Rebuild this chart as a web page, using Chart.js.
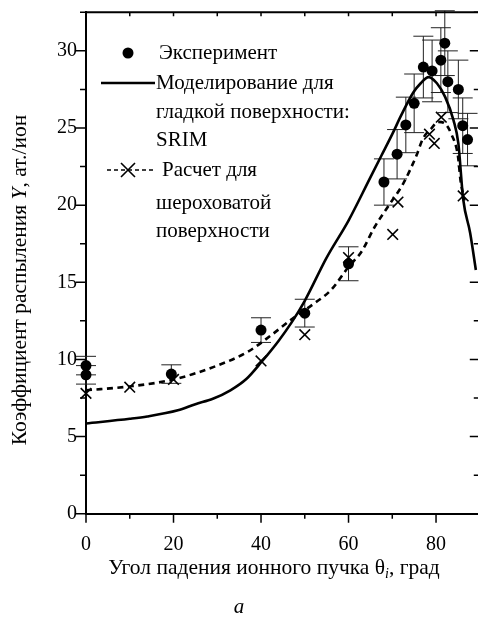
<!DOCTYPE html>
<html>
<head>
<meta charset="utf-8">
<script src="https://cdn.jsdelivr.net/npm/chart.js@4.4.1/dist/chart.umd.min.js"></script>
<style>
html,body{margin:0;padding:0;background:#fff;}
#wrap{width:478px;height:617px;position:relative;}
</style>
</head>
<body>
<div id="wrap"><canvas id="c" width="478" height="617"></canvas></div>
<script>
// ---- data ----
const expAngle = [0, 0, 19.5, 40, 50, 60, 68.1, 71.1, 73.1, 75.0, 77.1, 79.1, 81.1, 82.0, 82.7, 85.1, 86.1, 87.2];
const expY     = [9.6, 9.0, 9.05, 11.9, 13.0, 16.2, 21.5, 23.3, 25.2, 26.6, 28.95, 28.7, 29.4, 30.5, 28.0, 27.5, 25.15, 24.25];
const expErr   = [0.6, 0.6, 0.6, 0.8, 0.9, 1.1, 1.5, 1.6, 1.8, 1.9, 2.0, 2.0, 2.1, 2.1, 2.0, 1.9, 1.8, 1.7];

const calcAngle = [0, 10, 20, 40, 50, 60, 70.1, 71.3, 78.5, 79.6, 81.2, 86.2];
const calcY     = [7.8, 8.2, 8.7, 9.9, 11.6, 16.6, 18.1, 20.2, 24.6, 24.0, 25.7, 20.6];

const srimAngle = [0, 10, 14, 21, 25, 29, 33, 36.7, 40, 44, 47, 50, 55, 60, 65, 67.5, 70, 72, 74.8, 76.5, 78.3, 80.2, 82.1, 84, 85.1, 86.2, 87.8, 89.1];
const srimY     = [5.85, 6.15, 6.3, 6.7, 7.1, 7.45, 8.0, 8.75, 9.8, 11.2, 12.4, 13.8, 16.6, 19.0, 21.8, 23.2, 24.6, 25.8, 27.3, 27.9, 28.3, 27.9, 27.0, 25.5, 24.0, 20.4, 18.2, 15.8];

const roughAngle = [0, 10, 20, 30, 37, 42, 47, 52, 56, 60, 63, 66, 69, 72.5, 75.5, 77, 79, 80.5, 82, 83.5, 85, 85.6, 86.5];
const roughY     = [8.0, 8.25, 8.7, 9.6, 10.5, 11.5, 12.6, 13.6, 14.5, 16.0, 17.0, 18.6, 19.9, 21.4, 23.2, 24.3, 25.0, 25.4, 25.3, 24.6, 23.2, 21.6, 20.3];

const xTickLabels = [0, 20, 40, 60, 80];
const yTickLabels = [0, 5, 10, 15, 20, 25, 30];

const legendTexts = ['Эксперимент', 'Моделирование для', 'гладкой поверхности:', 'SRIM', 'Расчет для', 'шероховатой', 'поверхности'];
const xTitleMain = 'Угол падения ионного пучка θ';
const xTitleSub = 'i';
const xTitleEnd = ', град';
const yTitleStart = 'Коэффициент распыления ';
const yTitleVar = 'Y';
const yTitleEnd = ', ат./ион';
const caption = 'a';

const FONT = '"Liberation Serif", "Times New Roman", serif';
const pts = (xs, ys) => xs.map((x, i) => ({x: x, y: ys[i]}));

const decor = {
  id: 'decor',
  beforeDatasetsDraw(chart) {
    const ctx = chart.ctx, xs = chart.scales.x, ys = chart.scales.y;
    ctx.save();
    ctx.strokeStyle = '#222';
    ctx.lineWidth = 1;
    expAngle.forEach((a, i) => {
      const px = xs.getPixelForValue(a);
      const yt = ys.getPixelForValue(expY[i] + expErr[i]);
      const yb = ys.getPixelForValue(expY[i] - expErr[i]);
      ctx.beginPath();
      ctx.moveTo(px, yt); ctx.lineTo(px, yb);
      ctx.moveTo(px - 10, yt); ctx.lineTo(px + 10, yt);
      ctx.moveTo(px - 10, yb); ctx.lineTo(px + 10, yb);
      ctx.stroke();
    });
    ctx.restore();
  },
  afterDraw(chart) {
    const ctx = chart.ctx, xs = chart.scales.x, ys = chart.scales.y, ca = chart.chartArea;
    ctx.save();
    ctx.strokeStyle = '#000';
    ctx.lineWidth = 2;
    // top frame line
    ctx.beginPath();
    ctx.moveTo(ca.left - 1, ca.top); ctx.lineTo(chart.width, ca.top);
    ctx.stroke();
    ctx.lineWidth = 1.5;
    const xRight = xs.getPixelForValue(90);
    // y ticks left (outward) and right (inward)
    ys.ticks.forEach(t => {
      const py = ys.getPixelForValue(t.value);
      const major = Math.abs(t.value % 5) < 1e-6;
      const L = major ? 10 : 6;
      ctx.beginPath();
      ctx.moveTo(ca.left - L, py); ctx.lineTo(ca.left, py);
      ctx.moveTo(xRight - L, py); ctx.lineTo(xRight, py);
      ctx.stroke();
    });
    // x ticks bottom (outward) and top (inward)
    xs.ticks.forEach(t => {
      const px = xs.getPixelForValue(t.value);
      const major = Math.abs(t.value % 20) < 1e-6;
      const L = major ? 9 : 5;
      ctx.beginPath();
      ctx.moveTo(px, ca.bottom); ctx.lineTo(px, ca.bottom + L);
      ctx.moveTo(px, ca.top); ctx.lineTo(px, ca.top + 4);
      ctx.stroke();
    });

    // legend
    ctx.fillStyle = '#000';
    ctx.font = '21px ' + FONT;
    ctx.textBaseline = 'middle';
    ctx.textAlign = 'left';
    ctx.beginPath(); ctx.arc(128, 53, 5.5, 0, Math.PI * 2); ctx.fill();
    ctx.fillText(legendTexts[0], 159, 53);
    ctx.lineWidth = 2.5;
    ctx.beginPath(); ctx.moveTo(101, 83); ctx.lineTo(155, 83); ctx.stroke();
    ctx.fillText(legendTexts[1], 156, 83);
    ctx.fillText(legendTexts[2], 156, 112);
    ctx.fillText(legendTexts[3], 156, 140);
    ctx.lineWidth = 1.3;
    ctx.setLineDash([4, 3]);
    ctx.beginPath(); ctx.moveTo(107, 170); ctx.lineTo(156, 170); ctx.stroke();
    ctx.setLineDash([]);
    ctx.lineWidth = 1.6;
    ctx.beginPath();
    ctx.moveTo(121, 163); ctx.lineTo(135, 177);
    ctx.moveTo(135, 163); ctx.lineTo(121, 177);
    ctx.stroke();
    ctx.fillText(legendTexts[4], 162, 170);
    ctx.fillText(legendTexts[5], 156, 203);
    ctx.fillText(legendTexts[6], 156, 231);

    // x title
    const fN = '21.5px ' + FONT, fI = 'italic 14px ' + FONT;
    ctx.font = fN; const w1 = ctx.measureText(xTitleMain).width;
    ctx.font = fI; const w2 = ctx.measureText(xTitleSub).width;
    ctx.font = fN; const w3 = ctx.measureText(xTitleEnd).width;
    let x0 = 274 - (w1 + w2 + w3) / 2;
    ctx.font = fN; ctx.fillText(xTitleMain, x0, 568);
    ctx.font = fI; ctx.fillText(xTitleSub, x0 + w1, 574);
    ctx.font = fN; ctx.fillText(xTitleEnd, x0 + w1 + w2, 568);

    // y title (rotated)
    ctx.save();
    ctx.translate(20, 280);
    ctx.rotate(-Math.PI / 2);
    const fIY = 'italic 21.5px ' + FONT;
    ctx.font = fN; const v1 = ctx.measureText(yTitleStart).width;
    ctx.font = fIY; const v2 = ctx.measureText(yTitleVar).width;
    ctx.font = fN; const v3 = ctx.measureText(yTitleEnd).width;
    let y0 = -(v1 + v2 + v3) / 2;
    ctx.font = fN; ctx.fillText(yTitleStart, y0, 0);
    ctx.font = fIY; ctx.fillText(yTitleVar, y0 + v1, 0);
    ctx.font = fN; ctx.fillText(yTitleEnd, y0 + v1 + v2, 0);
    ctx.restore();

    // caption
    ctx.font = 'italic 21px ' + FONT;
    ctx.textAlign = 'center';
    ctx.fillText(caption, 239, 607);
    ctx.restore();
  }
};

new Chart(document.getElementById('c'), {
  type: 'scatter',
  data: {
    datasets: [
      {
        label: 'Эксперимент',
        data: pts(expAngle, expY),
        showLine: false,
        pointStyle: 'circle',
        pointRadius: 5.5,
        pointBackgroundColor: '#000',
        pointBorderColor: '#000',
        pointBorderWidth: 0,
        clip: false,
        order: 0
      },
      {
        label: 'Расчет для шероховатой поверхности (точки)',
        data: pts(calcAngle, calcY),
        showLine: false,
        pointStyle: 'crossRot',
        pointRadius: 7.5,
        pointBorderColor: '#000',
        pointBorderWidth: 1.6,
        clip: false,
        order: 1
      },
      {
        label: 'Моделирование для гладкой поверхности: SRIM',
        data: pts(srimAngle, srimY),
        showLine: true,
        pointRadius: 0,
        borderColor: '#000',
        borderWidth: 2.6,
        cubicInterpolationMode: 'monotone',
        clip: false,
        order: 2
      },
      {
        label: 'Расчет для шероховатой поверхности',
        data: pts(roughAngle, roughY),
        showLine: true,
        pointRadius: 0,
        borderColor: '#000',
        borderWidth: 2.6,
        borderDash: [6, 4.5],
        cubicInterpolationMode: 'monotone',
        clip: false,
        order: 3
      }
    ]
  },
  options: {
    responsive: false,
    animation: false,
    events: [],
    layout: { autoPadding: false, padding: { left: 0, top: 12.3, right: 0.4, bottom: 0 } },
    plugins: { legend: { display: false }, tooltip: { enabled: false }, title: { display: false } },
    scales: {
      x: {
        type: 'linear',
        min: 0, max: 89.5,
        afterFit: s => { s.height = 103.3; s.paddingLeft = 0; s.paddingRight = 0; },
        border: { display: true, color: '#000', width: 2 },
        grid: { display: false },
        ticks: {
          stepSize: 10,
          includeBounds: false,
          autoSkip: false,
          maxRotation: 0,
          padding: 11.5,
          color: '#000',
          font: { family: FONT, size: 20 },
          callback: v => xTickLabels.includes(v) ? String(v) : ''
        }
      },
      y: {
        type: 'linear',
        min: 0, max: 32.5,
        afterFit: s => { s.width = 86; s.paddingTop = 0; s.paddingBottom = 0; },
        border: { display: true, color: '#000', width: 2 },
        grid: { display: false },
        ticks: {
          stepSize: 2.5,
          includeBounds: false,
          autoSkip: false,
          padding: 1,
          color: '#000',
          font: { family: FONT, size: 20 },
          callback: v => yTickLabels.includes(v) ? String(v) : ''
        }
      }
    }
  },
  plugins: [decor]
});
</script>
</body>
</html>
